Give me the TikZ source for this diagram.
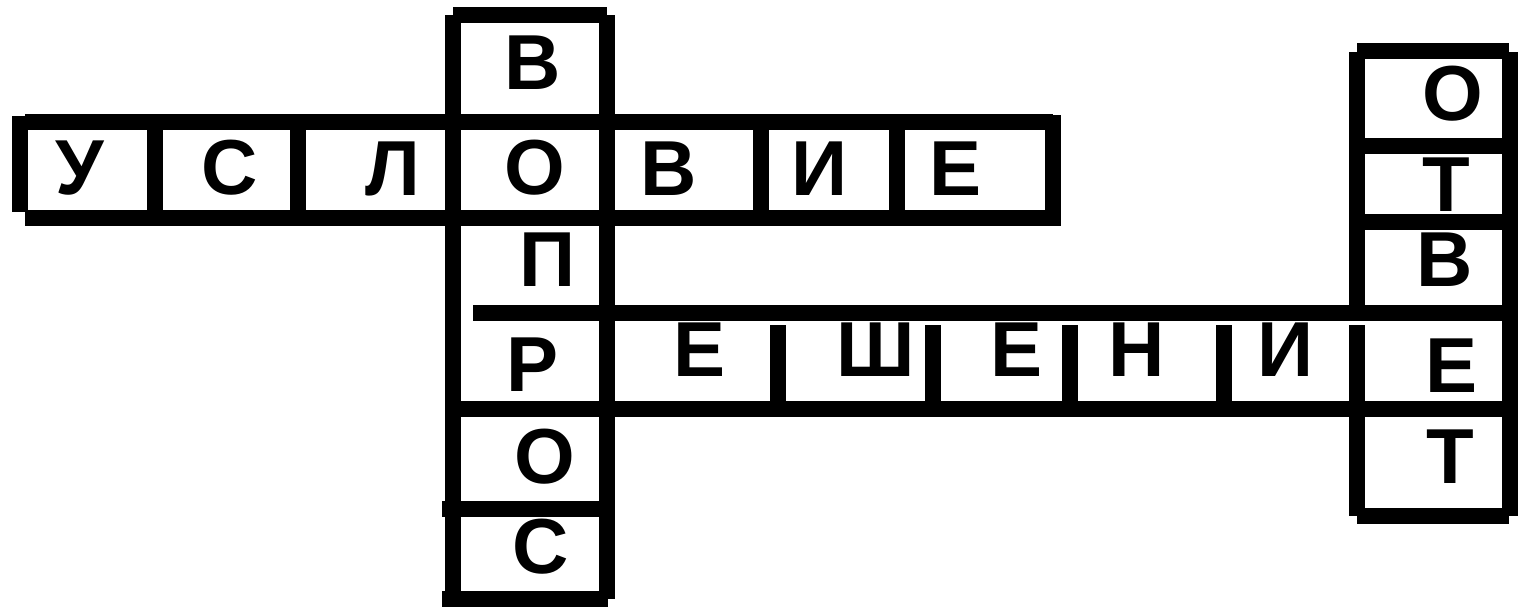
\documentclass[tikz,border=0pt]{standalone}
\usepackage{fontspec}
\setmainfont{Liberation Sans}
\begin{document}
\begin{tikzpicture}[x=1pt,y=-1pt,
  gridline/.style={line width=16pt, line cap=butt},
  letter/.style={font=\fontsize{78}{78}\selectfont\bfseries, inner sep=0pt}]
\useasboundingbox[fill=white] (0,0) rectangle (1528,606);
% --- УСЛОВИЕ row ---
\draw[gridline] (20,116) -- (20,212);
\draw[gridline] (25,122) -- (1053,122);
\draw[gridline] (25,218) -- (1053,218);
\draw[gridline] (1053,115) -- (1053,226);
\foreach \x in {155,298,761,897} \draw[gridline] (\x,122) -- (\x,218);
% --- ВОПРОС column ---
\draw[gridline] (453,15) -- (607,15);
\draw[gridline] (453,15) -- (453,592);
\draw[gridline] (607,15) -- (607,599);
\draw[gridline] (442,509) -- (607,509);
\draw[gridline] (442,599) -- (608,599);
% --- РЕШЕНИЕ row ---
\draw[gridline] (473,313) -- (1510,313);
\draw[gridline] (453,409) -- (1510,409);
\foreach \x in {778,933,1070,1224} \draw[gridline] (\x,325) -- (\x,409);
% --- ОТВЕТ column ---
\draw[gridline] (1357,51) -- (1509,51);
\draw[gridline] (1357,52) -- (1357,321);
\draw[gridline] (1357,325) -- (1357,516);
\draw[gridline] (1510,52) -- (1510,516);
\draw[gridline] (1357,146) -- (1510,146);
\draw[gridline] (1357,222) -- (1510,222);
\draw[gridline] (1357,516) -- (1509,516);
% --- letters: ВОПРОС ---
\node[letter] (v1) at (533,63) {В};
\node[letter] (v2) at (535,168) {О};
\node[letter] (v3) at (548,260) {П};
\node[letter] (v4) at (533,365) {Р};
\node[letter] (v5) at (545,457) {О};
\node[letter] (v6) at (541,547) {С};
% --- УСЛОВИЕ ---
\node[letter] (u1) at (80,168) {У};
\node[letter] (u2) at (230,168) {С};
\node[letter] (u3) at (393,169) {Л};
\node[letter] (u5) at (669,169) {В};
\node[letter] (u6) at (820,169) {И};
\node[letter] (u7) at (955,169) {Е};
% --- РЕШЕНИЕ ---
\node[letter] (r2) at (700,350) {Е};
\node[letter] (r3) at (876,350) {Ш};
\node[letter] (r4) at (1016,350) {Е};
\node[letter] (r5) at (1137,350) {Н};
\node[letter] (r6) at (1286,350) {И};
% --- ОТВЕТ ---
\node[letter] (o1) at (1453,94) {О};
\node[letter] (o2) at (1446,185) {Т};
\node[letter] (o3) at (1445,260) {В};
\node[letter] (o4) at (1451,366) {Е};
\node[letter] (o5) at (1450,457) {Т};
\end{tikzpicture}
\end{document}
